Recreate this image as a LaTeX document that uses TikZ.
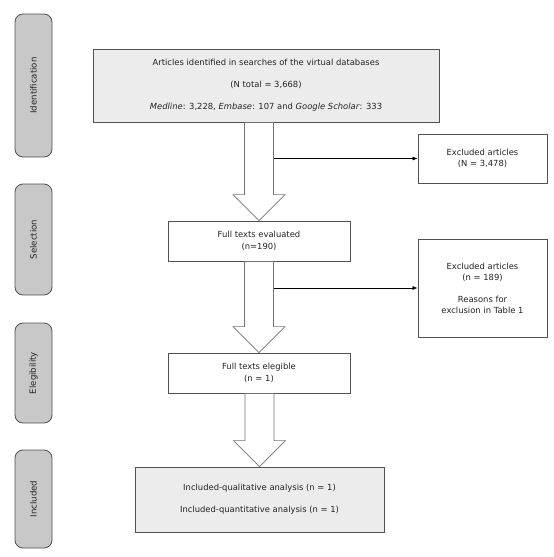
\documentclass[tikz,border=0pt]{standalone}
\usepackage{fontspec}
\setmainfont{DejaVu Sans}
\usetikzlibrary{calc,arrows.meta}
\definecolor{tabfill}{RGB}{200,200,200}
\definecolor{boxfill}{RGB}{236,236,236}
\definecolor{edge}{RGB}{80,80,80}
\definecolor{txt}{RGB}{35,35,35}
\tikzset{
  tab/.style={draw=edge, fill=tabfill, rounded corners=8pt, line width=0.8pt, minimum width=37pt, text=txt, font=\fontsize{8.6}{10}\selectfont},
  box/.style={draw=edge, line width=0.8pt, fill=white, align=center, text=txt, font=\fontsize{8.4}{11}\selectfont, inner sep=0pt},
  graybox/.style={box, fill=boxfill},
  blk/.style={draw=edge!80, fill=white, line width=0.7pt},
  conn/.style={draw=black, line width=0.6pt, -{Latex[length=5pt,width=4pt]}}
}
\newcommand\blockarr[2]{%
  \path[blk] let \p1=(#1.south), \p2=(#2.north) in
    (\x2-14.5pt,\y1) -- (\x2-14.5pt,\y2+26pt) -- (\x2-26pt,\y2+26pt) -- (\x2,\y2)
    -- (\x2+26pt,\y2+26pt) -- (\x2+14.5pt,\y2+26pt) -- (\x2+14.5pt,\y1) -- cycle;}
\begin{document}
\begin{tikzpicture}[x=1pt,y=-1pt]
\useasboundingbox (0,0) rectangle (554,557);
% tabs
\node[tab, minimum height=143pt] (t1) at (33.5,85.5) {\rotatebox{90}{Identification}};
\node[tab, minimum height=111pt] (t2) at (33.5,239.5) {\rotatebox{90}{Selection}};
\node[tab, minimum height=100pt] (t3) at (33.5,373) {\rotatebox{90}{Elegibility}};
\node[tab, minimum height=98pt] (t4) at (33.5,499) {\rotatebox{90}{Included}};
% main boxes
\node[graybox, minimum width=346pt, minimum height=73pt] (id) at (266,85.5)
  {Articles identified in searches of the virtual databases\\[11pt](N total = 3,668)\\[11pt]\textit{Medline}: 3,228, \textit{Embase}: 107 and \textit{Google Scholar}: 333};
\node[box, minimum width=182pt, minimum height=40pt, font=\fontsize{8.4}{12}\selectfont] (ft) at (259,241) {Full texts evaluated\\(n=190)};
\node[box, minimum width=182pt, minimum height=40pt, font=\fontsize{8.4}{12}\selectfont] (el) at (259,373) {Full texts elegible\\(n = 1)};
\node[graybox, minimum width=249pt, minimum height=65pt] (inc) at (259.5,499.5)
  {Included-qualitative analysis (n = 1)\\[11pt]Included-quantitative analysis (n = 1)};
% excluded boxes
\node[box, minimum width=129pt, minimum height=49pt, font=\fontsize{8.4}{10.5}\selectfont] (ex1) at (482.5,158.5) {Excluded articles\\(N = 3,478)};
\node[box, minimum width=129pt, minimum height=98pt, font=\fontsize{8.4}{11}\selectfont] (ex2) at (482.5,288) {Excluded articles\\(n = 189)\\[11pt]Reasons for\\exclusion in Table 1};
% block arrows
\blockarr{id}{ft}
\blockarr{ft}{el}
\blockarr{el}{inc}
% connectors
\coordinate (s1) at ($(ft.north)+(14.5pt,0)$);
\coordinate (s2) at ($(el.north)+(14.5pt,0)$);
\draw[conn] (s1 |- ex1.west) -- (ex1.west);
\draw[conn] (s2 |- ex2.west) -- (ex2.west);
\end{tikzpicture}
\end{document}
